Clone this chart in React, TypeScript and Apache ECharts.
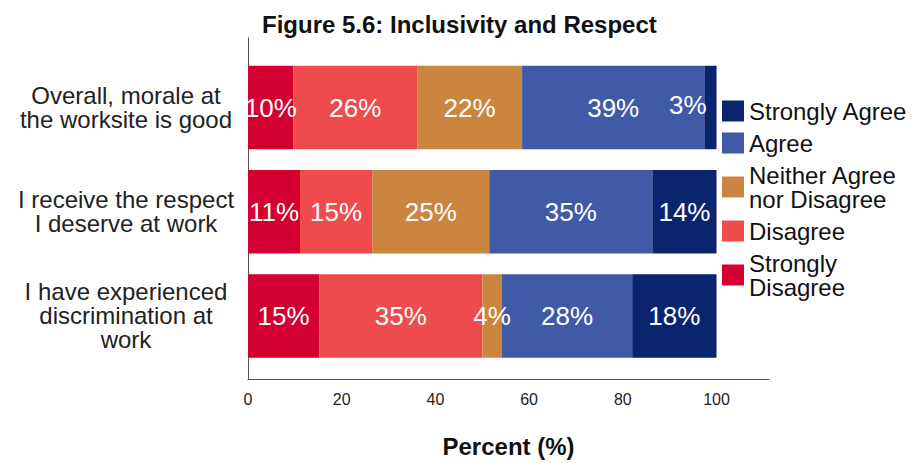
import React, { useEffect, useRef } from "react";
import * as echarts from "echarts";

const categories = [
  "Overall, morale at\nthe worksite is good",
  "I receive the respect\nI deserve at work",
  "I have experienced\ndiscrimination at\nwork",
];
const stronglyDisagree = [9.7, 11.1, 15.2];
const disagree = [26.4, 15.4, 34.8];
const neither = [22.4, 25.0, 4.2];
const agree = [38.9, 34.8, 27.8];
const stronglyAgree = [2.6, 13.7, 18.0];
const xTicks = [0, 20, 40, 60, 80, 100];

const legendOrder = ["Strongly Agree", "Agree", "Neither Agree nor Disagree", "Disagree", "Strongly Disagree"];
const legendLabels: Record<string, string> = {
  "Strongly Agree": "Strongly Agree",
  Agree: "Agree",
  "Neither Agree nor Disagree": "Neither Agree\nnor Disagree",
  Disagree: "Disagree",
  "Strongly Disagree": "Strongly\nDisagree",
};

const FONT = "'Liberation Sans', Arial, Helvetica, sans-serif";

export default function App() {
  const ref = useRef<HTMLDivElement>(null);
  useEffect(() => {
    if (!ref.current) return;
    const chart = echarts.init(ref.current, undefined, { renderer: "svg" });
    const AXMAX = 111.2;
    const labelBase = {
      show: true,
      position: "inside",
      color: "#ffffff",
      fontSize: 26,
      fontFamily: FONT,
      formatter: (p: any) => `${Math.round(p.value)}%`,
    };
    const mk = (name: string, data: number[], color: string) => ({
      name,
      type: "bar",
      stack: "total",
      xAxisIndex: 0,
      yAxisIndex: 0,
      barCategoryGap: "20%",
      itemStyle: { color },
      label: labelBase,
      data: data.map((v) => {
        // small final segment at the right edge: label kept inside the plot
        if (name === "Strongly Agree" && v < 5) {
          return { value: v, label: { position: "insideRight", distance: 10, offset: [0, -3] } };
        }
        return v;
      }),
    });
    chart.setOption({
      animation: false,
      backgroundColor: "#ffffff",
      textStyle: { fontFamily: FONT },
      title: {
        text: "Figure 5.6: Inclusivity and Respect",
        left: 262,
        top: 12,
        padding: 0,
        textStyle: { fontSize: 24, fontWeight: "bold", color: "#111", fontFamily: FONT },
      },
      legend: {
        orient: "vertical",
        left: 722,
        top: 99,
        padding: 0,
        itemWidth: 22,
        itemHeight: 21,
        itemGap: 8,
        icon: "rect",
        data: legendOrder,
        formatter: (n: string) => legendLabels[n] ?? n,
        textStyle: { fontSize: 24, lineHeight: 24, color: "#111", fontFamily: FONT },
      },
      grid: [
        { left: 248, right: 146, top: 55.4, bottom: 94.9 },
        { left: 248, right: 146, top: 38, bottom: 78 },
      ],
      xAxis: [
        { type: "value", gridIndex: 0, min: 0, max: AXMAX, show: false },
        {
          type: "value",
          gridIndex: 1,
          min: 0,
          max: AXMAX,
          interval: 20,
          axisLine: { show: true, lineStyle: { color: "#555", width: 1 } },
          axisTick: { show: false },
          splitLine: { show: false },
          axisLabel: {
            margin: 12,
            fontSize: 16,
            color: "#222",
            fontFamily: FONT,
            formatter: (v: number) => (xTicks.includes(Math.round(v * 1000) / 1000) ? String(v) : ""),
          },
          name: "Percent (%)",
          nameLocation: "middle",
          nameGap: 55,
          nameTextStyle: { fontSize: 24, fontWeight: "bold", color: "#111", fontFamily: FONT },
        },
      ],
      yAxis: [
        {
          type: "category",
          gridIndex: 0,
          inverse: true,
          data: categories,
          axisLine: { show: false },
          axisTick: { show: false },
          axisLabel: {
            align: "center",
            margin: 122,
            fontSize: 24,
            lineHeight: 24,
            color: "#222",
            fontFamily: FONT,
          },
        },
        {
          type: "value",
          gridIndex: 1,
          min: 0,
          max: 1,
          axisLine: { show: true, lineStyle: { color: "#555", width: 1 } },
          axisTick: { show: false },
          axisLabel: { show: false },
          splitLine: { show: false },
        },
      ],
      series: [
        mk("Strongly Disagree", stronglyDisagree, "#D50032"),
        mk("Disagree", disagree, "#EE4B4D"),
        mk("Neither Agree nor Disagree", neither, "#CC853F"),
        mk("Agree", agree, "#405AA8"),
        mk("Strongly Agree", stronglyAgree, "#0B2470"),
      ],
    });
    return () => chart.dispose();
  }, []);
  return (
    <div
      ref={ref}
      style={{ position: "fixed", left: 0, top: 0, width: 915, height: 463, background: "#fff" }}
    />
  );
}
